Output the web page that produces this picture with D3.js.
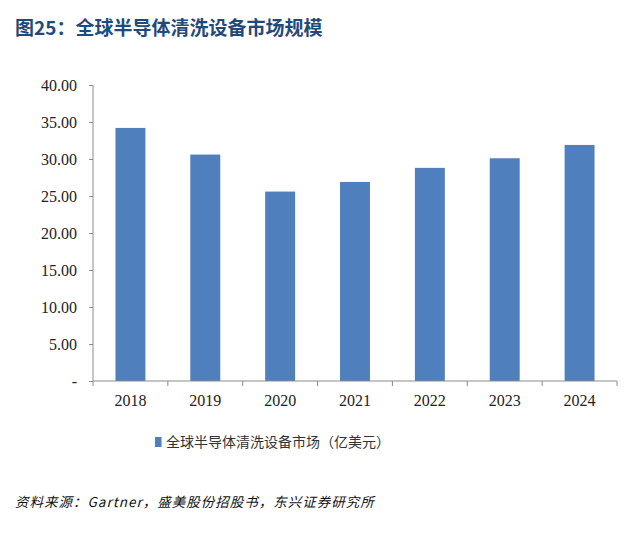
<!DOCTYPE html>
<html>
<head>
<meta charset="utf-8">
<script src="https://cdn.jsdelivr.net/npm/d3@7/dist/d3.min.js"></script>
<style>
  html, body { margin: 0; padding: 0; background: #fff; }
  svg { display: block; }
</style>
</head>
<body>
<svg id="chart" width="640" height="534"></svg>
<script>
  // 数据
  var years = ['2018', '2019', '2020', '2021', '2022', '2023', '2024'];
  var marketValues = [34.2, 30.6, 25.6, 26.9, 28.8, 30.1, 31.9];
  var yTicks = [0, 5, 10, 15, 20, 25, 30, 35, 40];
  var seriesName = '全球半导体清洗设备市场（亿美元）';
  var titleText = '图25：全球半导体清洗设备市场规模';
  var sourceText = '资料来源：Gartner，盛美股份招股书，东兴证券研究所';

  var svg = d3.select('#chart');
  var cjk = '"Noto Sans CJK SC", "Noto Sans", sans-serif';
  var serif = '"Liberation Serif", "DejaVu Serif", serif';
  var axisColor = '#8c8c8c';
  var barColor = '#4f7fbd';

  var plot = { left: 93, right: 617, top: 85, bottom: 381 };

  var x = d3.scaleBand()
    .domain(years)
    .range([plot.left, plot.right])
    .paddingInner(0.6)
    .paddingOuter(0.3);

  var y = d3.scaleLinear()
    .domain([0, 40])
    .range([plot.bottom, plot.top]);

  // 标题
  svg.append('text')
    .attr('x', 15)
    .attr('y', 35)
    .attr('font-family', cjk)
    .attr('font-size', 19)
    .attr('font-weight', 'bold')
    .attr('fill', '#22497c')
    .text(titleText);

  // 柱子
  svg.append('g')
    .selectAll('rect')
    .data(marketValues)
    .enter()
    .append('rect')
    .attr('x', function(d, i) { return x(years[i]); })
    .attr('y', function(d) { return y(d); })
    .attr('width', x.bandwidth())
    .attr('height', function(d) { return y(0) - y(d); })
    .attr('fill', barColor);

  // y 轴
  var yAxis = d3.axisLeft(y)
    .tickValues(yTicks)
    .tickSize(4)
    .tickPadding(12)
    .tickFormat(function(d) { return d === 0 ? '-' : d3.format('.2f')(d); });

  var gy = svg.append('g')
    .attr('transform', 'translate(' + plot.left + ',0)')
    .call(yAxis);
  gy.select('.domain').attr('stroke', axisColor).attr('d', 'M0,' + plot.top + 'V' + plot.bottom);
  gy.selectAll('.tick line').attr('stroke', axisColor);
  gy.selectAll('.tick text')
    .attr('font-family', serif)
    .attr('font-size', 16)
    .attr('fill', '#222');

  // x 轴
  var xAxis = d3.axisBottom(x)
    .tickSize(0)
    .tickPadding(14);

  var gx = svg.append('g')
    .attr('transform', 'translate(0,' + plot.bottom + ')')
    .call(xAxis);
  gx.select('.domain').attr('stroke', axisColor).attr('d', 'M' + plot.left + ',0H' + plot.right);
  gx.selectAll('.tick text')
    .attr('font-family', serif)
    .attr('font-size', 16)
    .attr('fill', '#222');

  // x 轴分隔刻度（类别边界）
  var bounds = d3.range(years.length + 1).map(function(i) {
    return plot.left + i * (plot.right - plot.left) / years.length;
  });
  gx.selectAll('.sep')
    .data(bounds)
    .enter()
    .append('line')
    .attr('class', 'sep')
    .attr('x1', function(d) { return d; })
    .attr('x2', function(d) { return d; })
    .attr('y1', 0)
    .attr('y2', 5)
    .attr('stroke', axisColor);

  // 图例
  var legend = svg.append('g').attr('transform', 'translate(155,437)');
  legend.append('rect')
    .attr('width', 6.5)
    .attr('height', 10)
    .attr('fill', barColor);
  legend.append('text')
    .attr('x', 11)
    .attr('y', 10)
    .attr('font-family', cjk)
    .attr('font-size', 14)
    .attr('fill', '#333')
    .text(seriesName);

  // 资料来源
  svg.append('text')
    .attr('x', 15)
    .attr('y', 507)
    .attr('font-family', cjk)
    .attr('font-size', 13.5)
    .attr('font-style', 'italic')
    .attr('letter-spacing', 1)
    .attr('fill', '#111')
    .text(sourceText);
</script>
</body>
</html>
